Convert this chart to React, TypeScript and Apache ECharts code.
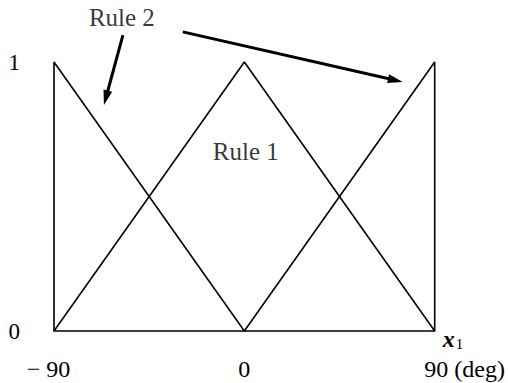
import React, { useEffect, useRef } from "react";
import * as echarts from "echarts";

// x-axis ticks (degrees) and their labels
const xTicks = [-90, 0, 90];
const xTickLabels: Record<string, string> = { "-90": "− 90", "0": "0", "90": "90 (deg)" };
const yTickLabels: Record<string, string> = { "0": "0", "1": "1" };

// membership functions: [x, membership]
const rule2Points: [number, number][] = [
  [-90, 0],
  [-90, 1],
  [0, 0],
  [90, 1],
  [90, 0],
];
const rule1Points: [number, number][] = [
  [-90, 0],
  [0, 1],
  [90, 0],
];

// annotations (data coordinates)
const ruleLabels: [number, number, string][] = [
  [-57.9, 1.164, "Rule 2"],
  [0.7, 0.669, "Rule 1"],
];
// arrows: [fromX, fromY, toX, toY]
const arrowLines: [number, number, number, number][] = [
  [-57.4, 1.1, -66.4, 0.84],
  [-29.1, 1.112, 74.9, 0.926],
];

const FONT = "'Liberation Serif', 'Times New Roman', serif";
const INK = "#000";

export default function App() {
  const ref = useRef<HTMLDivElement>(null);
  useEffect(() => {
    if (!ref.current) return;
    const chart = echarts.init(ref.current, undefined, { renderer: "svg" });
    chart.setOption({
      animation: false,
      backgroundColor: "#fff",
      grid: { left: 54, right: 73, top: 62, bottom: 52 },
      xAxis: {
        type: "value",
        min: xTicks[0],
        max: xTicks[xTicks.length - 1],
        interval: 90,
        name: "{x|x}{s|1}",
        nameLocation: "end",
        nameGap: 8,
        nameTextStyle: {
          padding: [16, 0, 0, 0],
          rich: {
            x: { fontFamily: FONT, fontSize: 24, fontStyle: "italic", fontWeight: "bold", color: INK },
            s: { fontFamily: FONT, fontSize: 15, color: INK, padding: [10, 0, 0, 1] },
          },
        },
        axisLine: { show: true, lineStyle: { color: INK, width: 1.6 } },
        axisTick: { show: false },
        splitLine: { show: false },
        axisLabel: {
          margin: 26,
          fontFamily: FONT,
          fontSize: 24,
          color: INK,
          formatter: (v: number) => {
            const t = xTickLabels[String(v)] ?? String(v);
            if (v === -90) return "{l|" + t + "}";
            if (v === 90) return "{r|" + t + "}";
            return t;
          },
          rich: {
            l: { fontFamily: FONT, fontSize: 24, color: INK, padding: [0, 11, 0, 0] },
            r: { fontFamily: FONT, fontSize: 24, color: INK, padding: [0, 0, 0, 60] },
          },
        },
      },
      yAxis: {
        type: "value",
        min: 0,
        max: 1,
        interval: 1,
        axisLine: { show: false },
        axisTick: { show: false },
        splitLine: { show: false },
        axisLabel: {
          margin: 34,
          fontFamily: FONT,
          fontSize: 23,
          color: INK,
          formatter: (v: number) => yTickLabels[String(v)] ?? String(v),
        },
      },
      series: [
        {
          name: "Rule 2",
          type: "line",
          data: rule2Points,
          symbol: "none",
          clip: false,
          lineStyle: { color: INK, width: 1.6 },
        },
        {
          name: "Rule 1",
          type: "line",
          data: rule1Points,
          symbol: "none",
          clip: false,
          lineStyle: { color: INK, width: 1.6 },
        },
        {
          name: "arrows",
          type: "custom",
          clip: false,
          silent: true,
          encode: { x: [0, 2], y: [1, 3] },
          data: arrowLines,
          renderItem: (_params: any, api: any) => {
            const p1 = api.coord([api.value(0), api.value(1)]);
            const p2 = api.coord([api.value(2), api.value(3)]);
            const dx = p2[0] - p1[0];
            const dy = p2[1] - p1[1];
            const len = Math.sqrt(dx * dx + dy * dy);
            const ux = dx / len;
            const uy = dy / len;
            const headLen = 15;
            const halfW = 4.5;
            const bx = p2[0] - ux * headLen;
            const by = p2[1] - uy * headLen;
            return {
              type: "group",
              children: [
                {
                  type: "line",
                  shape: { x1: p1[0], y1: p1[1], x2: bx + ux * 2, y2: by + uy * 2 },
                  style: { stroke: INK, lineWidth: 3 },
                },
                {
                  type: "polygon",
                  shape: {
                    points: [
                      [p2[0], p2[1]],
                      [bx - uy * halfW, by + ux * halfW],
                      [bx + uy * halfW, by - ux * halfW],
                    ],
                  },
                  style: { fill: INK },
                },
              ],
            };
          },
        },
        {
          name: "labels",
          type: "scatter",
          data: ruleLabels.map(([x, y, t]) => ({ value: [x, y], name: t })),
          symbolSize: 0,
          clip: false,
          silent: true,
          label: {
            show: true,
            position: "inside",
            formatter: (p: any) => p.name,
            fontFamily: FONT,
            fontSize: 25,
            color: INK,
          },
        },
      ],
    });
    return () => chart.dispose();
  }, []);
  return (
    <div
      ref={ref}
      style={{ position: "fixed", left: 0, top: 0, width: 508, height: 383, background: "#fff" }}
    />
  );
}
